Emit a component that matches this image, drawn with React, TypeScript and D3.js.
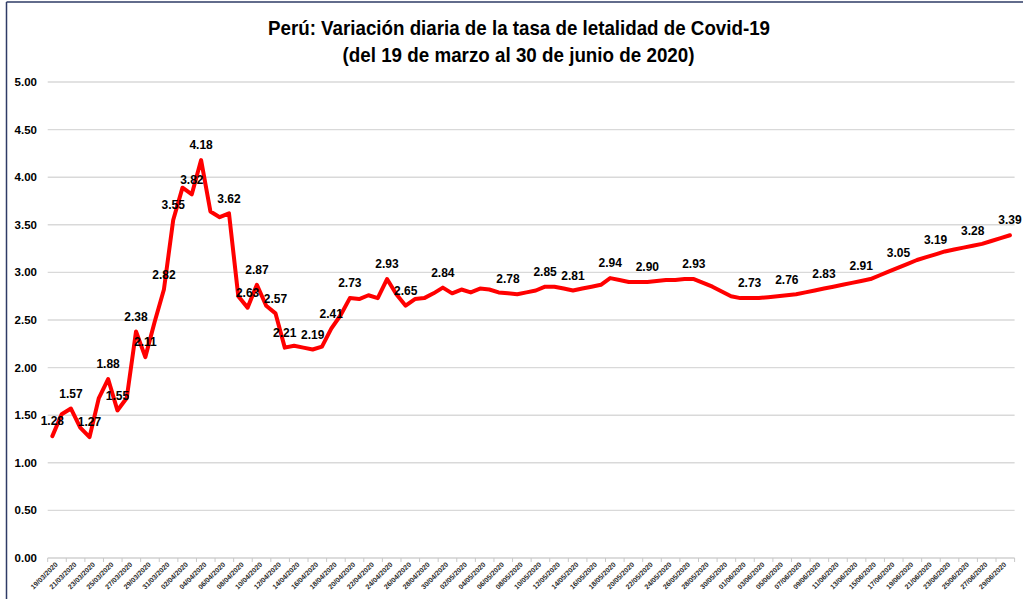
import React from 'react';
import * as d3 from 'd3';

// fechas del 19/03/2020 al 30/06/2020
const start = new Date(2020, 2, 19);
const dates: string[] = d3.timeDays(start, new Date(2020, 6, 1)).map((d) => d3.timeFormat('%d/%m/%Y')(d));

const values: number[] = [
  1.28, 1.51, 1.57, 1.37, 1.27, 1.68, 1.88, 1.55, 1.68, 2.38,
  2.11, 2.48, 2.82, 3.55, 3.89, 3.82, 4.18, 3.64, 3.58, 3.62,
  2.75, 2.63, 2.87, 2.65, 2.57, 2.21, 2.23, 2.21, 2.19, 2.22,
  2.41, 2.55, 2.73, 2.72, 2.76, 2.73, 2.93, 2.77, 2.65, 2.72,
  2.73, 2.78, 2.84, 2.78, 2.82, 2.79, 2.83, 2.82, 2.79, 2.78,
  2.77, 2.79, 2.81, 2.85, 2.85, 2.83, 2.81, 2.83, 2.85, 2.87,
  2.94, 2.92, 2.90, 2.90, 2.90, 2.91, 2.92, 2.92, 2.93, 2.93,
  2.89, 2.85, 2.80, 2.75, 2.73, 2.73, 2.73, 2.74, 2.75, 2.76,
  2.77, 2.79, 2.81, 2.83, 2.85, 2.87, 2.89, 2.91, 2.93, 2.97,
  3.01, 3.05, 3.09, 3.13, 3.16, 3.19, 3.22, 3.24, 3.26, 3.28,
  3.30, 3.33, 3.36, 3.39,
];

// puntos con etiqueta de datos
const labeled: number[] = [
  0, 2, 4, 6, 7, 9, 10, 12, 13, 15, 16, 19, 21, 22, 24, 25, 28, 30, 32, 36,
  38, 42, 49, 53, 56, 60, 64, 69, 75, 79, 83, 87, 91, 95, 99, 103,
];

const yTicks: number[] = [0, 0.5, 1, 1.5, 2, 2.5, 3, 3.5, 4, 4.5, 5];

const titleLines: string[] = [
  'Perú: Variación diaria de la tasa de letalidad de Covid-19',
  '(del 19 de marzo al 30 de junio de 2020)',
];

const W = 1023;
const H = 599;
const left = 47.7;
const right = 1014.6;
const top = 82;
const bottom = 558;

export default function App() {
  const x = d3.scaleBand<number>().domain(d3.range(dates.length)).range([left, right]);
  const cx = (i: number) => (x(i) as number) + x.bandwidth() / 2;
  const y = d3.scaleLinear().domain([0, 5]).range([bottom, top]);

  const line = d3
    .line<number>()
    .x((_, i) => cx(i))
    .y((d) => y(d));

  const boundaries = d3.range(0, dates.length + 1, 2);

  return (
    <svg width={W} height={H} style={{ position: 'absolute', left: 0, top: 0, background: '#fff' }}>
      <rect x={0} y={0} width={W} height={H} fill="#fff" />
      <line x1={6.5} y1={2} x2={W} y2={2} stroke="#2e3b66" strokeWidth={1.5} />
      <line x1={6.5} y1={2} x2={6.5} y2={H} stroke="#2e3b66" strokeWidth={1.5} />

      <g fontFamily="'Liberation Sans Narrow', 'Arial Narrow', 'Liberation Sans', Arial, sans-serif" fontWeight="bold" fontSize={21} textAnchor="middle" fill="#000">
        <text x={519} y={35} textLength={502} lengthAdjust="spacingAndGlyphs">{titleLines[0]}</text>
        <text x={518.5} y={62} textLength={352} lengthAdjust="spacingAndGlyphs">{titleLines[1]}</text>
      </g>

      {yTicks.map((t) => (
        <g key={t}>
          <line x1={left} x2={right} y1={y(t)} y2={y(t)} stroke={t === 0 ? '#d0d0d0' : '#d9d9d9'} strokeWidth={1.4} />
          <text x={37} y={y(t)} dy="0.35em" textAnchor="end" fontFamily="'Liberation Sans', Arial, sans-serif" fontWeight="bold" fontSize={11.5} fill="#000">
            {t.toFixed(2)}
          </text>
        </g>
      ))}

      {boundaries.map((b) => {
        const bx = left + b * x.bandwidth();
        return <line key={b} x1={bx} x2={bx} y1={bottom} y2={bottom + 4} stroke="#c8c8c8" strokeWidth={1} />;
      })}

      {dates.map((d, i) =>
        i % 2 === 0 ? (
          <text
            key={d}
            transform={`translate(${cx(i) + 6},${bottom + 7}) rotate(-45)`}
            textAnchor="end"
            fontFamily="'Liberation Sans', Arial, sans-serif"
            fontWeight="bold"
            fontSize={7}
            fill="#2a2a2a"
          >
            {d}
          </text>
        ) : null
      )}

      <path d={line(values) as string} fill="none" stroke="#ff0000" strokeWidth={4} strokeLinejoin="round" strokeLinecap="round" />

      {labeled.map((i) => (
        <text
          key={i}
          x={cx(i)}
          y={y(values[i]) - 15}
          dy="0.35em"
          textAnchor="middle"
          fontFamily="'Liberation Sans', Arial, sans-serif"
          fontWeight="bold"
          fontSize={12}
          fill="#000"
        >
          {values[i].toFixed(2)}
        </text>
      ))}
    </svg>
  );
}
